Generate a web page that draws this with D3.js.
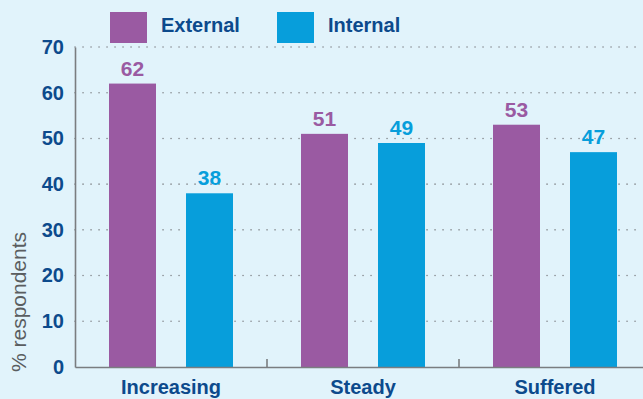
<!DOCTYPE html>
<html>
<head>
<meta charset="utf-8">
<script src="https://cdn.jsdelivr.net/npm/d3@7"></script>
<style>
  html, body { margin: 0; padding: 0; background: #e1f3fb; }
  svg { display: block; font-family: "Liberation Sans", Arial, sans-serif; }
</style>
</head>
<body>
<svg id="chart" width="643" height="399"></svg>
<script>
// Share of respondents by trend, external vs internal
const categories = ["Increasing", "Steady", "Suffered"];
const seriesNames = ["External", "Internal"];
const externalValues = [62, 51, 53];
const internalValues = [38, 49, 47];
const yTicks = [0, 10, 20, 30, 40, 50, 60, 70];

const colors = { External: "#9a5aa2", Internal: "#079edb" };
const textBlue = "#0c4a8c";

const svg = d3.select("#chart");
const margin = { left: 75, top: 47, bottom: 32 };
const plotRight = 651;
const height = 399;

const x = d3.scaleBand().domain(categories).range([margin.left, plotRight]).paddingInner(0).paddingOuter(0);
// two bars of 47px with a 30px gap, offset 34px inside each category band
const xInner = d3.scaleBand().domain(seriesNames).range([34, 158]).paddingInner(30 / 77).paddingOuter(0);
const y = d3.scaleLinear().domain([0, 70]).range([height - margin.bottom, margin.top]);

// dotted gridlines
svg.append("g")
  .selectAll("line")
  .data(yTicks.filter(d => d > 0))
  .join("line")
  .attr("x1", margin.left)
  .attr("x2", 643)
  .attr("y1", d => y(d))
  .attr("y2", d => y(d))
  .attr("stroke", "#8a8f94")
  .attr("stroke-width", 1.6)
  .attr("stroke-linecap", "round")
  .attr("stroke-dasharray", "0.1,7.9");

const data = categories.map((c, i) => ({
  category: c,
  values: [
    { key: "External", value: externalValues[i] },
    { key: "Internal", value: internalValues[i] }
  ]
}));

const groups = svg.append("g")
  .selectAll("g")
  .data(data)
  .join("g")
  .attr("transform", d => `translate(${x(d.category)},0)`);

groups.selectAll("rect")
  .data(d => d.values)
  .join("rect")
  .attr("x", d => xInner(d.key))
  .attr("width", xInner.bandwidth())
  .attr("y", d => y(d.value))
  .attr("height", d => y(0) - y(d.value))
  .attr("fill", d => colors[d.key]);

groups.selectAll("text.value")
  .data(d => d.values)
  .join("text")
  .attr("class", "value")
  .attr("x", d => xInner(d.key) + xInner.bandwidth() / 2)
  .attr("y", d => y(d.value) - 8)
  .attr("text-anchor", "middle")
  .attr("font-size", 21)
  .attr("font-weight", "bold")
  .attr("fill", d => colors[d.key])
  .text(d => d.value);

// y axis
const yAxis = svg.append("g")
  .attr("transform", `translate(${margin.left},0)`)
  .call(d3.axisLeft(y).tickValues(yTicks).tickSize(0).tickPadding(11));
yAxis.select(".domain").attr("stroke", "#7a7d80").attr("stroke-width", 1.6);
yAxis.selectAll("text")
  .attr("font-size", 20)
  .attr("font-weight", "bold")
  .attr("fill", textBlue)
  .attr("font-family", "Liberation Sans, Arial, sans-serif");

// x axis
const xAxis = svg.append("g")
  .attr("transform", `translate(0,${y(0)})`)
  .call(d3.axisBottom(x).tickSize(0).tickPadding(10));
xAxis.select(".domain").attr("stroke", "#7a7d80").attr("stroke-width", 1.6);
xAxis.selectAll("text")
  .attr("font-size", 20)
  .attr("font-weight", "bold")
  .attr("fill", textBlue)
  .attr("font-family", "Liberation Sans, Arial, sans-serif")
  .attr("dy", "0.85em");

// category separators on the baseline
svg.append("g")
  .selectAll("line")
  .data(categories.slice(1))
  .join("line")
  .attr("x1", d => x(d))
  .attr("x2", d => x(d))
  .attr("y1", y(0))
  .attr("y2", y(0) - 8)
  .attr("stroke", "#7a7d80")
  .attr("stroke-width", 1.6);

// y axis title
svg.append("text")
  .attr("transform", `translate(26,302) rotate(-90)`)
  .attr("text-anchor", "middle")
  .attr("font-size", 21)
  .attr("fill", "#5a5d60")
  .text("% respondents");

// legend
const legendX = [110, 277];
const legend = svg.append("g")
  .selectAll("g")
  .data(seriesNames)
  .join("g")
  .attr("transform", (d, i) => `translate(${legendX[i]},12)`);
legend.append("rect")
  .attr("width", 37)
  .attr("height", 31)
  .attr("fill", d => colors[d]);
legend.append("text")
  .attr("x", 51)
  .attr("y", 20)
  .attr("font-size", 20)
  .attr("font-weight", "bold")
  .attr("fill", textBlue)
  .text(d => d);
</script>
</body>
</html>
